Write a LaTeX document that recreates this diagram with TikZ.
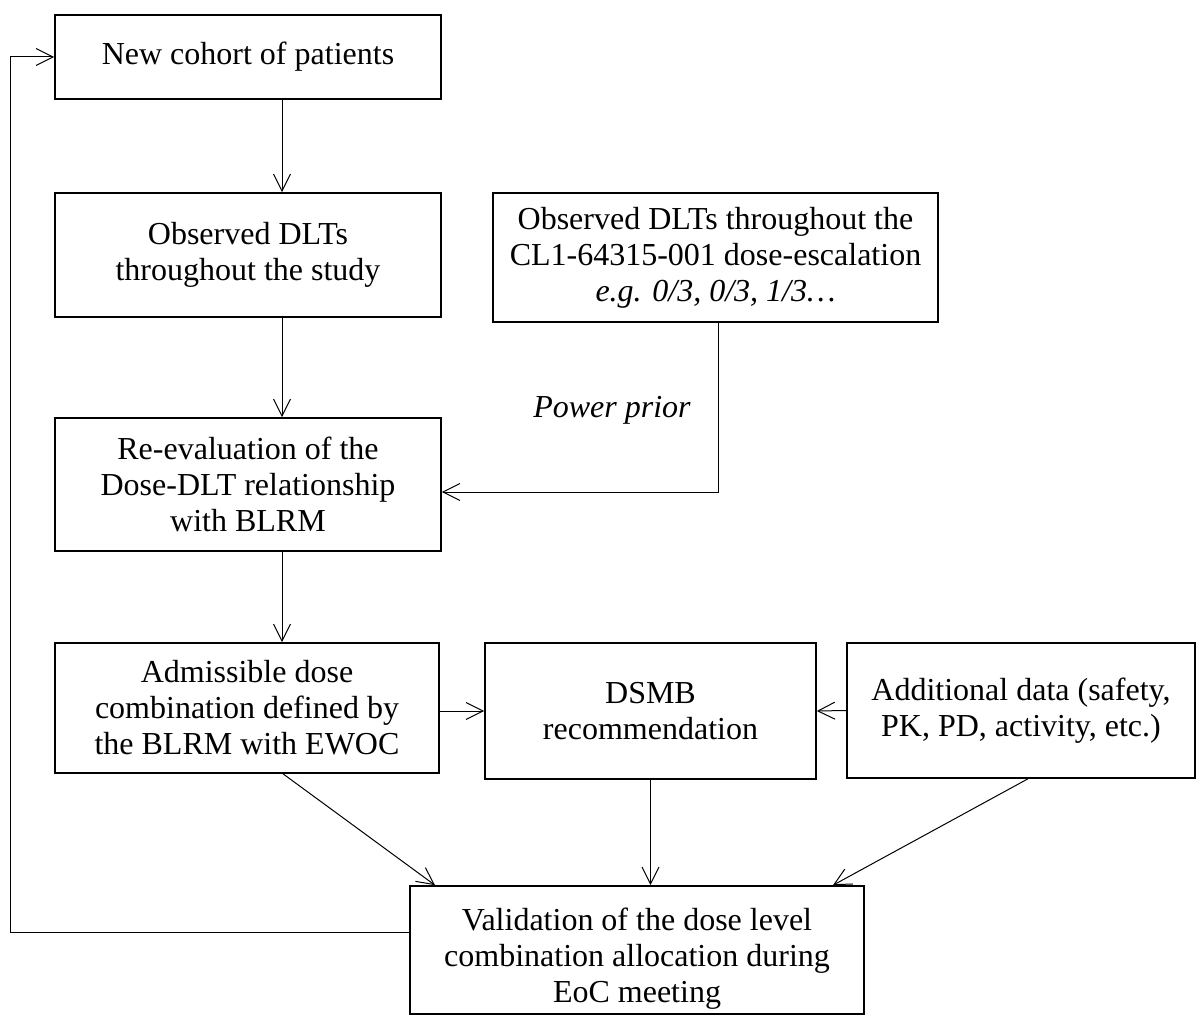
\documentclass[tikz,border=0pt]{standalone}
\usepackage{fontspec}
\setmainfont{Liberation Serif}
\usetikzlibrary{arrows.meta,positioning}

\begin{document}
\begin{tikzpicture}[x=0.5pt,y=-0.5pt,font=\fontsize{16}{18}\selectfont,
  box/.style={draw,line width=0.8pt,align=center,inner sep=2pt},
  arr/.style={-{Straight Barb[length=8.5pt,width=8.5pt]},line width=0.5pt}]
  \useasboundingbox (0,0) rectangle (1200,1016);
  % column of the trial loop
  \node[box,minimum width=193pt,minimum height=42pt] (cohort) at (248,57) {New cohort of patients};
  \node[box,minimum width=193pt,minimum height=62pt] (obs) at (248,255) {Observed DLTs\\throughout the study};
  \node[box,minimum width=222.5pt,minimum height=64.5pt] (prev) at (715.5,257.5)
    {Observed DLTs throughout the\\CL1-64315-001 dose-escalation\\\textit{e.g. 0/3, 0/3, 1/3\dots}};
  \node[box,minimum width=193pt,minimum height=66.5pt] (reeval) at (248,484.5)
    {Re-evaluation of the\\Dose-DLT relationship\\with BLRM};
  \node[box,minimum width=192pt,minimum height=65pt] (admiss) at (247,708)
    {Admissible dose\\combination defined by\\the BLRM with EWOC};
  \node[box,minimum width=165.5pt,minimum height=68pt] (dsmb) at (650.5,711) {DSMB\\recommendation};
  \node[box,minimum width=174pt,minimum height=67.5pt] (addl) at (1021,710.5)
    {Additional data (safety,\\PK, PD, activity, etc.)};
  \node[box,minimum width=227pt,minimum height=64pt] (valid) at (637,950)
    {\rule{0pt}{20pt}Validation of the dose level\\combination allocation during\\EoC meeting};
  \node (pplabel) at (612,410) {\textit{Power prior}};
  \coordinate (col) at (282,0);
  \coordinate (pp) at (718,492);
  \coordinate (fb) at (10,932);
  % connectors
  \draw[arr] (cohort.south -| col) -- (obs.north -| col);
  \draw[arr] (obs.south -| col) -- (reeval.north -| col);
  \draw[arr] (reeval.south -| col) -- (admiss.north -| col);
  \draw[arr] (prev.south -| pp) -- (pp) -- (reeval.east |- pp);
  \draw[arr] (admiss.east) -- (dsmb.west -| admiss.east) -- (dsmb.west);
  \draw[arr] (addl.west) -- (dsmb.east);
  \draw[arr] ([xshift=18pt]admiss.south) -- ([xshift=-101pt]valid.north);
  \draw[arr] (dsmb.south) -- (valid.north -| dsmb.south);
  \draw[arr] ([xshift=3.5pt]addl.south) -- ([xshift=98pt]valid.north);
  \draw[arr] (valid.west |- fb) -- (fb) |- (cohort.west);
\end{tikzpicture}
\end{document}
